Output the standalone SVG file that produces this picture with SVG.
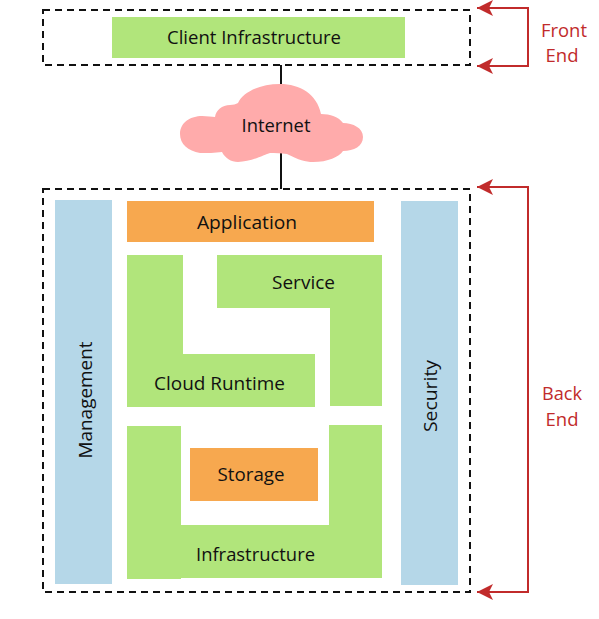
<svg xmlns="http://www.w3.org/2000/svg" width="599" height="619" viewBox="0 0 599 619">
<style>
.t{font-family:"Open Sans","Noto Sans",sans-serif;font-size:19px;fill:#111;text-anchor:middle}
.r{font-family:"Open Sans","Noto Sans",sans-serif;font-size:19px;fill:#c12b2b;text-anchor:middle}
.g{fill:#b1e57b}.o{fill:#f7a84f}.b{fill:#b5d7e8}.c{fill:#ffabab}
.d{fill:none;stroke:#111;stroke-width:2;stroke-dasharray:7 5}
.l{fill:none;stroke:#111;stroke-width:2}
.a{fill:none;stroke:#c12b2b;stroke-width:2}
</style>
<defs>
<marker id="ah" markerUnits="userSpaceOnUse" markerWidth="17" markerHeight="18" refX="16" refY="9" orient="auto-start-reverse" viewBox="0 0 17 18"><path d="M16 9L0 1L4 9L0 17Z" fill="#c12b2b"/></marker>
</defs>
<g id="connectors">
<path class="l" d="M281 65V90M281 150V189"/>
<path class="a" marker-start="url(#ah)" marker-end="url(#ah)" d="M477 8H528V66H477"/>
<path class="a" marker-start="url(#ah)" marker-end="url(#ah)" d="M477 187H528V592H477"/>
</g>
<g id="front-end-boundary"><rect class="d" x="43" y="10" width="427" height="55"/></g>
<g id="back-end-boundary"><rect class="d" x="43" y="189" width="427" height="403"/></g>
<g id="client-infrastructure"><rect class="g" x="112" y="17" width="293" height="41"/><text class="t" x="254" y="44" textLength="174" lengthAdjust="spacingAndGlyphs">Client Infrastructure</text></g>
<g id="internet">
<path class="c" d="M180 134C180 122 191 116 202 116C207 116 212 117 215 117C216 110 222 105 230 105C233 105 236 104 238 103C243 92 260 84 280 84C300 84 317 94 321 114C330 114 339 117 343 123C353 123 363 128 363 137C363 146 354 151 343 151C339 157 328 162 313 162C305 162 299 160 287 154C281 153 275 153 270 153C264 155 250 162 238 162C231 162 225 158 222 152C215 153 207 153 200 153C188 151 180 144 180 134Z"/>
<text class="t" x="276" y="132" textLength="69" lengthAdjust="spacingAndGlyphs">Internet</text></g>
<g id="management"><rect class="b" x="55" y="200" width="57" height="384"/><text class="t" transform="translate(92 400) rotate(-90)" textLength="117" lengthAdjust="spacingAndGlyphs">Management</text></g>
<g id="application"><rect class="o" x="127" y="201" width="247" height="41"/><text class="t" x="247" y="229" textLength="100" lengthAdjust="spacingAndGlyphs">Application</text></g>
<g id="service"><path class="g" d="M217 255H382V406H330V308H217Z"/><text class="t" x="303.500" y="289" textLength="63" lengthAdjust="spacingAndGlyphs">Service</text></g>
<g id="cloud-runtime"><path class="g" d="M127 255H183V354H315V407H127Z"/><text class="t" x="219.500" y="390" textLength="131" lengthAdjust="spacingAndGlyphs">Cloud Runtime</text></g>
<g id="infrastructure"><path class="g" d="M127 426H181V525H329V425H382V578H181V579H127Z"/><text class="t" x="255.500" y="561" textLength="119" lengthAdjust="spacingAndGlyphs">Infrastructure</text></g>
<g id="storage"><rect class="o" x="190" y="448" width="128" height="53"/><text class="t" x="251" y="481" textLength="67" lengthAdjust="spacingAndGlyphs">Storage</text></g>
<g id="security"><rect class="b" x="401" y="201" width="57" height="384"/><text class="t" transform="translate(437 396) rotate(-90)" textLength="72" lengthAdjust="spacingAndGlyphs">Security</text></g>
<g id="front-end-label"><text class="r" x="564" y="37" textLength="46" lengthAdjust="spacingAndGlyphs">Front</text><text class="r" x="562" y="62" textLength="33" lengthAdjust="spacingAndGlyphs">End</text></g>
<g id="back-end-label"><text class="r" x="562" y="400" textLength="40" lengthAdjust="spacingAndGlyphs">Back</text><text class="r" x="562" y="426" textLength="33" lengthAdjust="spacingAndGlyphs">End</text></g>
</svg>
